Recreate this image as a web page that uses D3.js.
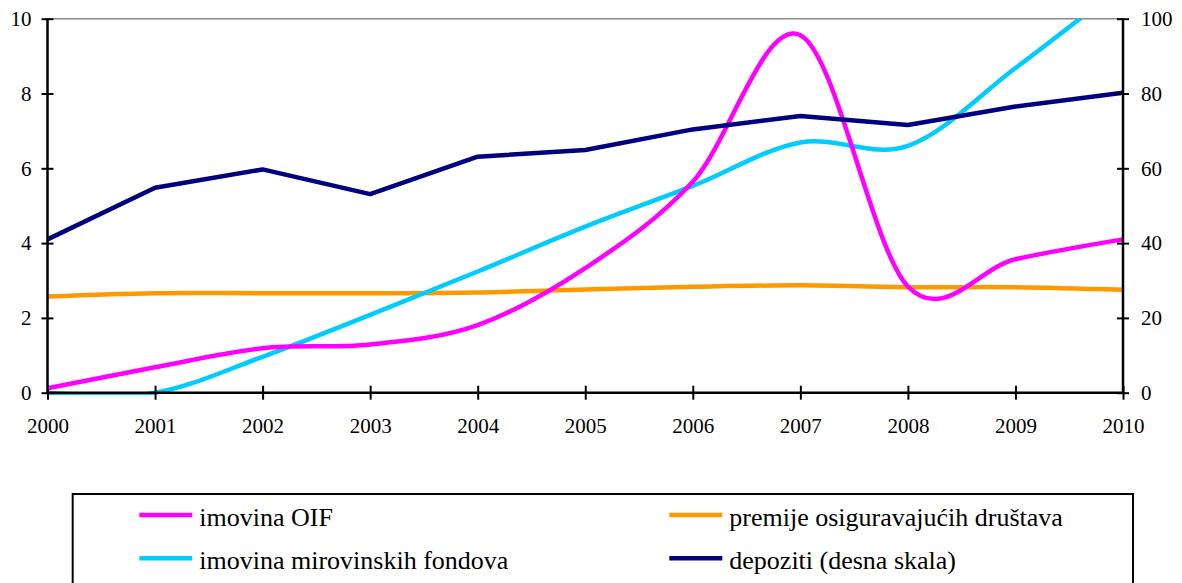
<!DOCTYPE html>
<html>
<head>
<meta charset="utf-8">
<script src="https://cdn.jsdelivr.net/npm/d3@7"></script>
<style>
  body { margin: 0; background: #fff; }
  svg { display: block; }
  svg text { font-family: "Liberation Serif", "DejaVu Serif", serif; }
</style>
</head>
<body>
<div id="chart"></div>
<script>
const years = [2000, 2001, 2002, 2003, 2004, 2005, 2006, 2007, 2008, 2009, 2010]
const imovinaOIF = [0.12, 0.68, 1.19, 1.29, 1.81, 3.33, 5.64, 9.56, 2.84, 3.57, 4.10]
const premije = [2.57, 2.66, 2.66, 2.66, 2.68, 2.76, 2.83, 2.87, 2.82, 2.82, 2.75]
const mirovinski = [0, 0, 0.96, 2.08, 3.24, 4.44, 5.53, 6.69, 6.60, 8.68, 10.9]
const depoziti = [41.0, 54.8, 59.7, 53.1, 63.1, 64.9, 70.4, 74.0, 71.6, 76.5, 80.2]
const leftTicks = [0, 2, 4, 6, 8, 10]
const rightTicks = [0, 20, 40, 60, 80, 100]

const width = 1182
const height = 583
const margin = {top: 18.7, right: 59, bottom: 190.3, left: 47.5}
const serif = "'Liberation Serif', 'DejaVu Serif', serif"

const svg = d3.select("#chart")
    .append("svg")
    .attr("width", width)
    .attr("height", height)

const x = d3.scaleLinear()
    .domain([2000, 2010])
    .range([margin.left, width - margin.right])

const yL = d3.scaleLinear()
    .domain([0, 10])
    .range([height - margin.bottom, margin.top])

const yR = d3.scaleLinear()
    .domain([0, 100])
    .range([height - margin.bottom, margin.top])

// top border of plot area
svg.append("line")
    .attr("x1", x(2000)).attr("x2", x(2010))
    .attr("y1", yL(10)).attr("y2", yL(10))
    .attr("stroke", "#8c8c8c")
    .attr("stroke-width", 1.5)

svg.append("clipPath")
    .attr("id", "plot")
    .append("rect")
    .attr("x", x(2000) - 5)
    .attr("y", yL(10))
    .attr("width", x(2010) - x(2000) + 10)
    .attr("height", yL(0) - yL(10) + 2.3)

const smooth = d3.line().curve(d3.curveCardinal.tension(0))
const straight = d3.line()

const series = [
    {name: "imovina OIF", values: imovinaOIF, scale: yL, color: "#ff00ff", line: smooth},
    {name: "premije osiguravajućih društava", values: premije, scale: yL, color: "#ff9900", line: smooth},
    {name: "imovina mirovinskih fondova", values: mirovinski, scale: yL, color: "#00ccff", line: smooth},
    {name: "depoziti (desna skala)", values: depoziti, scale: yR, color: "#000080", line: straight}
]

const plot = svg.append("g").attr("clip-path", "url(#plot)")

// draw order: orange under, then cyan, magenta, navy
const drawOrder = [1, 2, 0, 3]
drawOrder.forEach(i => {
    const s = series[i]
    plot.append("path")
        .attr("d", s.line(years.map((yr, j) => [x(yr), s.scale(s.values[j])])))
        .attr("fill", "none")
        .attr("stroke", s.color)
        .attr("stroke-width", 4.5)
        .attr("stroke-linejoin", "round")
})

// axes
const xAxis = svg.append("g")
    .attr("transform", `translate(0,${yL(0)})`)
    .call(d3.axisBottom(x).tickValues(years).tickFormat(d3.format("d")).tickSize(7).tickPadding(18))
const leftAxis = svg.append("g")
    .attr("transform", `translate(${x(2000)},0)`)
    .call(d3.axisLeft(yL).tickValues(leftTicks).tickSize(6).tickPadding(10))
const rightAxis = svg.append("g")
    .attr("transform", `translate(${x(2010)},0)`)
    .call(d3.axisRight(yR).tickValues(rightTicks).tickSize(6).tickPadding(12))

// ticks cross the axis line
xAxis.selectAll(".tick line").attr("y1", -7)
leftAxis.selectAll(".tick line").attr("x1", 6)
rightAxis.selectAll(".tick line").attr("x1", -6)

;[xAxis, leftAxis, rightAxis].forEach(a => {
    a.attr("font-family", serif).attr("font-size", 21)
    a.select(".domain").attr("stroke", "#000").attr("stroke-width", 2.5)
    a.selectAll(".tick line").attr("stroke", "#000").attr("stroke-width", 2)
    a.selectAll("text").attr("fill", "#000")
})
leftAxis.select(".domain").attr("d", `M0,${yL(0)}V${yL(10)}`)
rightAxis.select(".domain").attr("d", `M0,${yR(0)}V${yR(100)}`)
xAxis.select(".domain").attr("d", `M${x(2000)},0H${x(2010)}`)

// legend
const legend = svg.append("g")
legend.append("rect")
    .attr("x", 72.7)
    .attr("y", 494)
    .attr("width", 1133 - 72.7)
    .attr("height", 120)
    .attr("fill", "none")
    .attr("stroke", "#000")
    .attr("stroke-width", 2)

const legendPos = [
    {x: 139.3, y: 515},
    {x: 669.3, y: 515},
    {x: 139.3, y: 558.3},
    {x: 669.3, y: 558.3}
]
series.forEach((s, k) => {
    const p = legendPos[k]
    legend.append("line")
        .attr("x1", p.x).attr("x2", p.x + 53)
        .attr("y1", p.y).attr("y2", p.y)
        .attr("stroke", s.color)
        .attr("stroke-width", 4.5)
    legend.append("text")
        .attr("x", p.x + 60)
        .attr("y", p.y + 11)
        .attr("font-family", serif)
        .attr("font-size", 26)
        .attr("fill", "#000")
        .text(s.name)
})
</script>
</body>
</html>
